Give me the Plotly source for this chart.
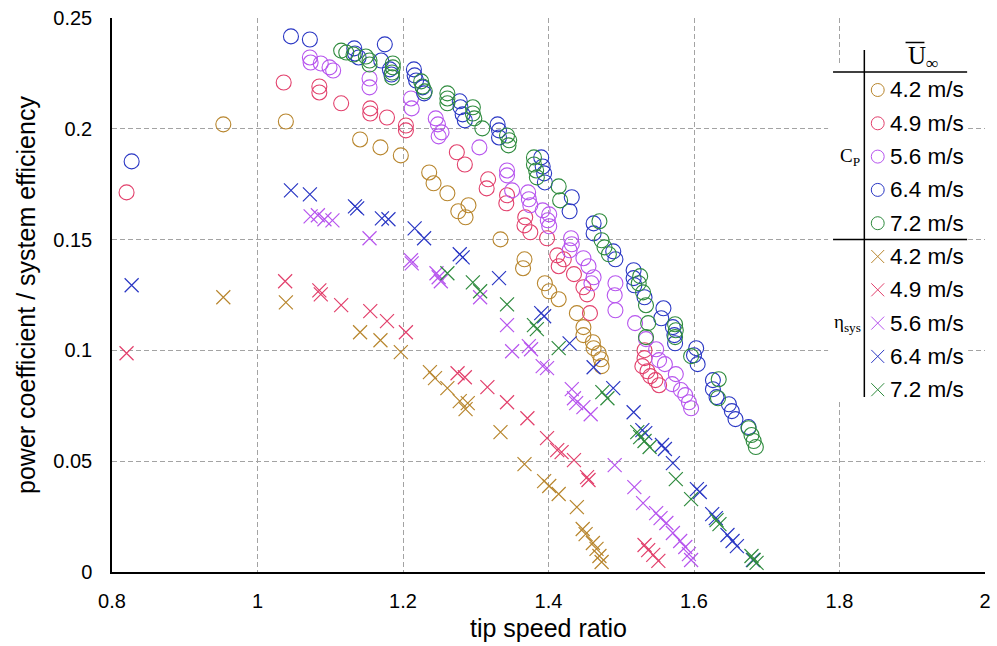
import plotly.graph_objects as go

# ---------------- data ----------------
speeds = ["4.2 m/s", "4.9 m/s", "5.6 m/s", "6.4 m/s", "7.2 m/s"]
colors = ["#B8862E", "#E2406C", "#B755EE", "#2A37C4", "#2F8B3E"]

tsr_cp_42 = [0.953, 1.039, 1.141, 1.169, 1.197, 1.236, 1.242, 1.261, 1.276, 1.290, 1.286, 1.334, 1.367,
             1.365, 1.395, 1.401, 1.414, 1.439, 1.448, 1.448, 1.461, 1.462, 1.469, 1.472, 1.473]
cp_42 = [0.202, 0.2033, 0.1952, 0.1916, 0.188, 0.1803, 0.1754, 0.1709, 0.1628, 0.1655, 0.1601, 0.1501, 0.1411,
         0.1371, 0.1303, 0.1267, 0.1231, 0.1168, 0.1105, 0.1069, 0.1037, 0.101, 0.0987, 0.096, 0.0929]

tsr_eta_42 = [0.953, 1.039, 1.141, 1.169, 1.197, 1.237, 1.244, 1.261, 1.278, 1.289, 1.286, 1.334, 1.367,
              1.394, 1.401, 1.414, 1.439, 1.447, 1.451, 1.461, 1.466, 1.470, 1.473]
eta_42 = [0.124, 0.1217, 0.1082, 0.1046, 0.0992, 0.0902, 0.0875, 0.083, 0.0771, 0.0762, 0.0735, 0.0631, 0.0487,
          0.041, 0.0388, 0.0352, 0.0293, 0.0194, 0.0171, 0.0131, 0.0104, 0.0072, 0.0045]

tsr_cp_49 = [0.820, 1.036, 1.085, 1.085, 1.115, 1.155, 1.155, 1.178, 1.204, 1.204, 1.274, 1.285, 1.317, 1.315,
             1.343, 1.342, 1.368, 1.367, 1.375, 1.398, 1.412, 1.421, 1.414, 1.435, 1.448, 1.453, 1.457, 1.532,
             1.532, 1.529, 1.536, 1.540, 1.547, 1.552]
cp_49 = [0.1713, 0.2209, 0.2191, 0.2164, 0.2115, 0.2092, 0.2069, 0.2051, 0.2015, 0.1993, 0.1894, 0.1839, 0.1772,
         0.1731, 0.17, 0.1664, 0.1601, 0.1564, 0.1533, 0.1506, 0.1429, 0.1411, 0.138, 0.1344, 0.1285, 0.1253,
         0.1168, 0.1001, 0.0965, 0.0929, 0.0906, 0.0884, 0.0866, 0.0843]

tsr_eta_49 = [0.820, 1.038, 1.085, 1.087, 1.115, 1.155, 1.178, 1.204, 1.275, 1.285, 1.316, 1.343, 1.371, 1.398,
              1.412, 1.418, 1.435, 1.453, 1.455, 1.532, 1.537, 1.544, 1.551]
eta_49 = [0.0987, 0.1312, 0.1271, 0.1253, 0.1204, 0.1177, 0.1132, 0.1082, 0.0897, 0.0879, 0.0834, 0.0766,
          0.0694, 0.0604, 0.055, 0.0541, 0.0505, 0.0428, 0.0415, 0.0122, 0.0099, 0.0077, 0.005]

tsr_cp_56 = [1.072, 1.073, 1.087, 1.099, 1.104, 1.154, 1.154, 1.211, 1.212, 1.245, 1.248, 1.253, 1.249, 1.305,
             1.343, 1.343, 1.350, 1.372, 1.373, 1.375, 1.392, 1.401, 1.399, 1.401, 1.431, 1.432, 1.429, 1.448,
             1.455, 1.462, 1.459, 1.492, 1.491, 1.492, 1.519, 1.534, 1.548, 1.552, 1.560, 1.575, 1.570, 1.582,
             1.588, 1.593, 1.596]
cp_56 = [0.2322, 0.2299, 0.2295, 0.2277, 0.2263, 0.2227, 0.2187, 0.2137, 0.2092, 0.2047, 0.202, 0.1984, 0.1966,
         0.1916, 0.1812, 0.179, 0.1722, 0.1713, 0.1682, 0.1655, 0.1632, 0.1614, 0.1587, 0.156, 0.1506, 0.1479,
         0.1452, 0.1416, 0.138, 0.133, 0.1303, 0.1303, 0.1249, 0.1181, 0.1123, 0.1051, 0.1005, 0.0956, 0.0938,
         0.0893, 0.0848, 0.0821, 0.0798, 0.0766, 0.0739]

tsr_eta_56 = [1.073, 1.083, 1.092, 1.103, 1.154, 1.211, 1.212, 1.246, 1.249, 1.252, 1.306, 1.343, 1.350, 1.373,
              1.376, 1.392, 1.398, 1.432, 1.435, 1.438, 1.448, 1.458, 1.491, 1.518, 1.530, 1.548, 1.554, 1.562,
              1.571, 1.581, 1.588, 1.593, 1.596]
eta_56 = [0.1605, 0.161, 0.1592, 0.1587, 0.1506, 0.1407, 0.1393, 0.1348, 0.133, 0.1312, 0.124, 0.1114, 0.0996,
          0.1019, 0.1005, 0.0929, 0.092, 0.0825, 0.0784, 0.0762, 0.0744, 0.0712, 0.0482, 0.0383, 0.0311, 0.0266,
          0.0243, 0.0221, 0.0176, 0.014, 0.0113, 0.0081, 0.0054]

tsr_cp_64 = [0.827, 1.046, 1.072, 1.133, 1.134, 1.139, 1.175, 1.170, 1.182, 1.184, 1.215, 1.216, 1.218, 1.227,
             1.229, 1.278, 1.279, 1.282, 1.285, 1.330, 1.332, 1.332, 1.390, 1.392, 1.394, 1.395, 1.432, 1.429,
             1.462, 1.462, 1.489, 1.492, 1.517, 1.517, 1.518, 1.532, 1.558, 1.555, 1.571, 1.573, 1.574, 1.603,
             1.600, 1.605, 1.626, 1.626, 1.631, 1.648, 1.652, 1.657, 1.675]
cp_64 = [0.1853, 0.2417, 0.2403, 0.2363, 0.234, 0.2322, 0.2381, 0.2308, 0.2268, 0.2245, 0.2268, 0.2241, 0.2218,
         0.2187, 0.216, 0.2124, 0.2097, 0.2065, 0.2038, 0.202, 0.1993, 0.1961, 0.1871, 0.183, 0.1799, 0.1758,
         0.1691, 0.1628, 0.1573, 0.1528, 0.1447, 0.1411, 0.1362, 0.1326, 0.1294, 0.124, 0.119, 0.1145, 0.1105,
         0.1069, 0.1032, 0.101, 0.0978, 0.0938, 0.0866, 0.0825, 0.0789, 0.0757, 0.0726, 0.069, 0.0654]

tsr_eta_64 = [0.827, 1.046, 1.072, 1.134, 1.137, 1.171, 1.180, 1.216, 1.229, 1.278, 1.282, 1.332, 1.390, 1.394,
              1.429, 1.462, 1.489, 1.517, 1.529, 1.533, 1.556, 1.560, 1.571, 1.604, 1.608, 1.625, 1.630, 1.646,
              1.653, 1.659, 1.681]
eta_64 = [0.1294, 0.1722, 0.1704, 0.165, 0.1641, 0.1596, 0.1592, 0.1551, 0.1506, 0.1434, 0.142, 0.1326, 0.1168,
          0.1154, 0.1032, 0.0924, 0.083, 0.0721, 0.064, 0.0627, 0.0573, 0.0555, 0.0491, 0.0374, 0.0361, 0.0261,
          0.0243, 0.0167, 0.014, 0.0117, 0.0054]

tsr_cp_72 = [1.115, 1.122, 1.132, 1.149, 1.154, 1.154, 1.186, 1.186, 1.185, 1.185, 1.225, 1.227, 1.230, 1.261,
             1.261, 1.261, 1.296, 1.296, 1.298, 1.309, 1.343, 1.346, 1.345, 1.380, 1.380, 1.383, 1.384, 1.414,
             1.416, 1.470, 1.473, 1.477, 1.483, 1.526, 1.524, 1.530, 1.534, 1.537, 1.534, 1.574, 1.575, 1.574,
             1.596, 1.634, 1.633, 1.675, 1.679, 1.682, 1.685]
cp_72 = [0.2353, 0.2344, 0.2335, 0.2326, 0.2308, 0.229, 0.2295, 0.2277, 0.2254, 0.2232, 0.2214, 0.2191, 0.2169,
         0.216, 0.2137, 0.2115, 0.2097, 0.2069, 0.2047, 0.2002, 0.197, 0.1948, 0.1925, 0.1871, 0.1839, 0.1812,
         0.1781, 0.174, 0.1677, 0.1583, 0.1497, 0.1465, 0.1434, 0.1335, 0.1303, 0.1262, 0.1204, 0.1123, 0.106,
         0.1118, 0.1091, 0.106, 0.0974, 0.087, 0.0784, 0.0649, 0.0618, 0.0591, 0.0564]

tsr_eta_72 = [1.261, 1.296, 1.306, 1.343, 1.380, 1.384, 1.414, 1.474, 1.481, 1.522, 1.526, 1.532, 1.539, 1.575,
              1.596, 1.631, 1.635, 1.679, 1.682, 1.686]
eta_72 = [0.1348, 0.1307, 0.1267, 0.1208, 0.1114, 0.1096, 0.101, 0.0812, 0.0784, 0.0631, 0.0609, 0.0591, 0.0564,
          0.0419, 0.0329, 0.0234, 0.0216, 0.0072, 0.0054, 0.0041]

x_ticks = [0.8, 1.0, 1.2, 1.4, 1.6, 1.8, 2.0]
x_ticktext = ["0.8", "1", "1.2", "1.4", "1.6", "1.8", "2"]
y_ticks = [0, 0.05, 0.1, 0.15, 0.2, 0.25]
y_ticktext = ["0", "0.05", "0.1", "0.15", "0.2", "0.25"]
x_grid = [1.0, 1.2, 1.4, 1.6, 1.8]
y_grid = [0.05, 0.1, 0.15, 0.2]

cp_sets = [(tsr_cp_42, cp_42), (tsr_cp_49, cp_49), (tsr_cp_56, cp_56), (tsr_cp_64, cp_64), (tsr_cp_72, cp_72)]
eta_sets = [(tsr_eta_42, eta_42), (tsr_eta_49, eta_49), (tsr_eta_56, eta_56), (tsr_eta_64, eta_64),
            (tsr_eta_72, eta_72)]

# ---------------- figure ----------------
W, H = 997, 646
L, R, T, B = 112, 991, 18, 572
FONT = "Liberation Sans, Arial, sans-serif"
SERIF = "Liberation Serif, Times New Roman, serif"
GRID = "#A3A3A3"

fig = go.Figure()
for (xs, ys), c, s in zip(cp_sets, colors, speeds):
    fig.add_trace(go.Scatter(x=xs, y=ys, mode="markers", name="C_P " + s, showlegend=False,
                             marker=dict(symbol="circle-open", size=15, color=c, line=dict(width=1.1, color=c))))
for (xs, ys), c, s in zip(eta_sets, colors, speeds):
    fig.add_trace(go.Scatter(x=xs, y=ys, mode="markers", name="eta_sys " + s, showlegend=False,
                             marker=dict(symbol="x-thin-open", size=14, color=c, line=dict(width=1.2, color=c))))
# empty trace that carries the grid-only overlay axes
fig.add_trace(go.Scatter(x=[], y=[], xaxis="x2", yaxis="y2", showlegend=False, hoverinfo="skip"))


def px(xp):
    return (xp - L) / (R - L)


def py(yp):
    return (B - yp) / (B - T)


shapes = []
annotations = []
# legend box
shapes.append(dict(type="rect", xref="paper", yref="paper", x0=px(833), x1=px(974), y0=py(400), y1=py(64),
                   fillcolor="white", line=dict(width=0), layer="above"))
line_style = dict(color="black", width=1.5)
shapes.append(dict(type="line", xref="paper", yref="paper", x0=px(838), x1=px(973), y0=py(72), y1=py(72),
                   line=line_style, layer="above"))
shapes.append(dict(type="line", xref="paper", yref="paper", x0=px(838), x1=px(973), y0=py(239.5), y1=py(239.5),
                   line=line_style, layer="above"))
shapes.append(dict(type="line", xref="paper", yref="paper", x0=px(869.5), x1=px(869.5), y0=py(50), y1=py(397),
                   line=line_style, layer="above"))
# overline above U
shapes.append(dict(type="line", xref="paper", yref="paper", x0=px(911), x1=px(930), y0=py(42.5), y1=py(42.5),
                   line=dict(color="black", width=1.5), layer="above"))
annotations.append(dict(xref="paper", yref="paper", x=px(911), y=py(57), xanchor="left", yanchor="middle",
                        text="U<sub>∞</sub>", showarrow=False, font=dict(family=SERIF, size=25, color="black")))
annotations.append(dict(xref="paper", yref="paper", x=px(855), y=py(157), xanchor="center", yanchor="middle",
                        text="C<sub>P</sub>", showarrow=False, font=dict(family=SERIF, size=19, color="black")))
annotations.append(dict(xref="paper", yref="paper", x=px(853), y=py(323), xanchor="center", yanchor="middle",
                        text="η<sub>sys</sub>", showarrow=False, font=dict(family=SERIF, size=19, color="black")))

row0, step = 90, 33.3
mx, tx = 883, 893
for i, (c, s) in enumerate(zip(colors, speeds)):
    yc = row0 + i * step
    shapes.append(dict(type="circle", xref="paper", yref="paper", x0=px(mx - 6.5), x1=px(mx + 6.5),
                       y0=py(yc + 6.5), y1=py(yc - 6.5), line=dict(color=c, width=1), layer="above"))
    annotations.append(dict(xref="paper", yref="paper", x=px(tx), y=py(yc), xanchor="left", yanchor="middle",
                            text=s, showarrow=False, font=dict(family=FONT, size=22.5, color="black")))
for i, (c, s) in enumerate(zip(colors, speeds)):
    yc = row0 + (i + 5) * step
    for sgn in (1, -1):
        shapes.append(dict(type="line", xref="paper", yref="paper", x0=px(mx - 6.5), x1=px(mx + 6.5),
                           y0=py(yc - 6.5 * sgn), y1=py(yc + 6.5 * sgn), line=dict(color=c, width=1),
                           layer="above"))
    annotations.append(dict(xref="paper", yref="paper", x=px(tx), y=py(yc), xanchor="left", yanchor="middle",
                            text=s, showarrow=False, font=dict(family=FONT, size=22.5, color="black")))

fig.update_layout(
    width=W, height=H, autosize=False,
    margin=dict(l=L, r=W - R, t=T, b=H - B, pad=0),
    paper_bgcolor="white", plot_bgcolor="white",
    font=dict(family=FONT, size=20, color="black"),
    showlegend=False,
    xaxis=dict(range=[0.8, 2.0], tickmode="array", tickvals=x_ticks, ticktext=x_ticktext,
               showgrid=False, zeroline=False, showline=True, linecolor="black", linewidth=1.5,
               ticks="", ticklabelstandoff=10, tickfont=dict(size=20),
               title=dict(text="tip speed ratio", font=dict(size=25), standoff=9)),
    yaxis=dict(range=[0, 0.25], tickmode="array", tickvals=y_ticks, ticktext=y_ticktext,
               showgrid=False, zeroline=False, showline=True, linecolor="black", linewidth=1.5,
               ticks="", ticklabelstandoff=14, tickfont=dict(size=20),
               title=dict(text="power coefficient / system efficiency", font=dict(size=25), standoff=11)),
    xaxis2=dict(overlaying="x", anchor="y2", range=[0.8, 2.0], tickmode="array", tickvals=x_grid,
                showticklabels=False, showgrid=True, gridcolor=GRID, gridwidth=1, griddash="5px,3px",
                zeroline=False, showline=False, ticks=""),
    yaxis2=dict(overlaying="y", anchor="x2", range=[0, 0.25], tickmode="array", tickvals=y_grid,
                showticklabels=False, showgrid=True, gridcolor=GRID, gridwidth=1, griddash="5px,3px",
                zeroline=False, showline=False, ticks=""),
    shapes=shapes,
    annotations=annotations,
)

fig.write_html("out.html", config={"displayModeBar": False})
